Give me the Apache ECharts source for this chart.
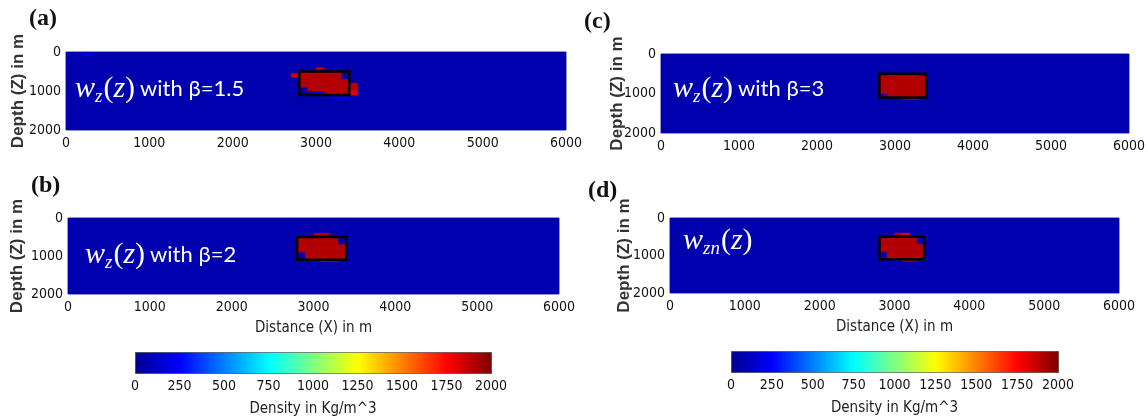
<!DOCTYPE html>
<html>
<head>
<meta charset="utf-8">
<script src="https://cdn.jsdelivr.net/npm/echarts@6/dist/echarts.min.js"></script>
<style>
  html, body { margin: 0; background: #fff; }
  #chart { width: 1148px; height: 419px; }
</style>
</head>
<body>
<div id="chart"></div>
<script>
// model extents (m) and density range (Kg/m^3)
const distanceRange = [0, 6000]
const depthRange = [0, 2000]
const densityRange = [0, 2000]
const distanceStep = 1000
const depthStep = 1000
const densityStep = 250

// true prism outline [x0, x1, z0, z1]
const prism = [2800, 3400, 500, 1100]

// recovered density blocks [x0, x1, z0, z1, density]
const cellsA = [
  [0, 6000, 0, 2000, 70],
  [200, 300, 50, 100, 200],
  [2800, 3300, 500, 700, 1900],
  [2800, 3400, 700, 900, 1900],
  [2900, 3400, 900, 1000, 1900],
  [3100, 3400, 1000, 1100, 1900],
  [3000, 3100, 1050, 1100, 240],
  [2700, 2800, 550, 650, 1850],
  [3000, 3100, 400, 450, 1880],
  [3400, 3500, 800, 1000, 1870],
  [3400, 3500, 1000, 1100, 1780],
  [3200, 3400, 1150, 1200, 200]
]
const cellsB = [
  [0, 6000, 0, 2000, 70],
  [2800, 3300, 500, 700, 1900],
  [2800, 3400, 700, 900, 1900],
  [2900, 3400, 900, 1100, 1900],
  [3000, 3200, 400, 450, 1880],
  [3000, 3100, 1100, 1150, 230],
  [3100, 3300, 1100, 1150, 1880]
]
const cellsC = [
  [0, 6000, 0, 2000, 70],
  [2900, 3300, 500, 550, 1900],
  [2800, 3400, 550, 1000, 1900],
  [2900, 3400, 1000, 1100, 1900],
  [3100, 3300, 1100, 1150, 1880]
]
const cellsD = [
  [0, 6000, 0, 2000, 70],
  [2800, 3300, 500, 700, 1900],
  [2800, 3400, 700, 900, 1900],
  [2900, 3400, 900, 1100, 1900],
  [3000, 3100, 400, 450, 1880],
  [3100, 3200, 400, 450, 1790],
  [3000, 3100, 1100, 1150, 230],
  [3100, 3300, 1100, 1150, 1860]
]

const panelTags = ['(a)', '(b)', '(c)', '(d)']
const betaTexts = ['with β=1.5', 'with β=2', 'with β=3', '']

const jet = ['#00008f', '#0000ff', '#0080ff', '#00ffff', '#80ff80',
  '#ffff00', '#ff8000', '#ff0000', '#800000']
const narrow = "'DejaVu Sans Condensed', 'Liberation Sans Narrow', sans-serif"

const chart = echarts.init(document.getElementById('chart'))

// panel boxes in pixels: a, b, c, d, then the two colourbars
const grids = [
  { left: 66, top: 52, width: 500, height: 78 },
  { left: 68, top: 218, width: 491, height: 76 },
  { left: 661, top: 54, width: 469, height: 79 },
  { left: 670, top: 218, width: 449, height: 75 },
  { left: 135, top: 352, width: 356, height: 21 },
  { left: 731, top: 351, width: 327, height: 21 }
]
const titleGaps = [39, 42, 35, 37]

const plainLabel = v => String(v)

function drawCell(params, api) {
  const a = api.coord([api.value(0), api.value(2)])
  const b = api.coord([api.value(1), api.value(3)])
  const color = api.visual('color')
  return {
    type: 'rect',
    shape: { x: a[0], y: a[1], width: b[0] - a[0], height: b[1] - a[1] },
    style: { fill: color, stroke: color, lineWidth: 0.5 }
  }
}

function drawBox(params, api) {
  const a = api.coord([api.value(0), api.value(2)])
  const b = api.coord([api.value(1), api.value(3)])
  return {
    type: 'rect',
    shape: { x: a[0], y: a[1], width: b[0] - a[0], height: b[1] - a[1] },
    style: { fill: 'none', stroke: '#000', lineWidth: 2.5 }
  }
}

const tickFont = { fontSize: 14, fontFamily: narrow, color: '#111' }

const xAxes = []
const yAxes = []
for (let i = 0; i < 4; i++) {
  xAxes.push({
    gridIndex: i,
    type: 'value',
    min: distanceRange[0],
    max: distanceRange[1],
    interval: distanceStep,
    axisLine: { show: false },
    axisTick: { show: false },
    splitLine: { show: false },
    axisLabel: Object.assign({ margin: 6, formatter: plainLabel }, tickFont),
    name: i === 1 || i === 3 ? 'Distance (X) in m' : '',
    nameLocation: 'middle',
    nameGap: 27,
    nameMoveOverlap: false,
    nameTextStyle: { fontSize: 15, fontFamily: narrow, color: '#222' }
  })
  yAxes.push({
    gridIndex: i,
    type: 'value',
    inverse: true,
    min: depthRange[0],
    max: depthRange[1],
    interval: depthStep,
    axisLine: { show: false },
    axisTick: { show: false },
    splitLine: { show: false },
    axisLabel: Object.assign({ margin: 5, formatter: plainLabel }, tickFont),
    name: 'Depth (Z) in m',
    nameLocation: 'middle',
    nameGap: titleGaps[i],
    nameMoveOverlap: false,
    nameTextStyle: { fontSize: 17, fontWeight: 'bold', fontFamily: 'Liberation Sans, Arial, sans-serif', color: '#333' }
  })
}
// colourbar tick axes
for (let i = 4; i < 6; i++) {
  xAxes.push({
    gridIndex: i,
    type: 'value',
    min: densityRange[0],
    max: densityRange[1],
    interval: densityStep,
    axisLine: { show: false },
    axisTick: { show: false },
    splitLine: { show: false },
    axisLabel: Object.assign({ margin: 6, formatter: plainLabel }, tickFont),
    name: 'Density in Kg/m^3',
    nameLocation: 'middle',
    nameGap: 29,
    nameMoveOverlap: false,
    nameTextStyle: { fontSize: 15, fontFamily: narrow, color: '#222' }
  })
  yAxes.push({ gridIndex: i, type: 'value', show: false, min: 0, max: 1 })
}

const allCells = [cellsA, cellsB, cellsC, cellsD]
const series = []
allCells.forEach((cells, i) => {
  series.push({
    type: 'custom', xAxisIndex: i, yAxisIndex: i, silent: true,
    renderItem: drawCell, encode: { x: [0, 1], y: [2, 3] }, data: cells
  })
})
for (let i = 0; i < 4; i++) {
  series.push({
    type: 'custom', xAxisIndex: i, yAxisIndex: i, silent: true, z: 3,
    renderItem: drawBox, encode: { x: [0, 1], y: [2, 3] }, data: [prism]
  })
}

const serif = 'Liberation Serif, serif'
const mathRich = {
  m: { fontFamily: serif, fontStyle: 'italic', fontWeight: 'normal', fontSize: 30, color: '#fff', lineHeight: 34 },
  s: { fontFamily: serif, fontStyle: 'italic', fontWeight: 'normal', fontSize: 19, color: '#fff', lineHeight: 34, verticalAlign: 'bottom', padding: [0, 1, 0, 0] },
  p: { fontFamily: serif, fontWeight: 'normal', fontSize: 30, color: '#fff', lineHeight: 34 },
  t: { fontFamily: 'Lato, sans-serif', fontWeight: 'normal', fontSize: 22, color: '#fff', lineHeight: 34 }
}
const textPos = [[75, 72], [85, 238], [673, 72], [683, 224]]
const tagPos = [[29, 7], [31, 174], [584, 10], [588, 179]]

const titles = []
for (let i = 0; i < 4; i++) {
  titles.push({
    text: panelTags[i], left: tagPos[i][0], top: tagPos[i][1], padding: 0,
    textStyle: { fontFamily: serif, fontWeight: 'bold', fontSize: 24, color: '#111' }
  })
  const sub = i === 3 ? 'zn' : 'z'
  const tail = betaTexts[i] ? ' {t|' + betaTexts[i] + '}' : ''
  titles.push({
    text: '{m|w}{s|' + sub + '}{p|(}{m|z}{p|)}' + tail,
    left: textPos[i][0], top: textPos[i][1], padding: 0,
    textStyle: { fontWeight: 'normal', rich: mathRich }
  })
}

const option = {
  animation: false,
  backgroundColor: '#fff',
  title: titles,
  grid: grids.map((g, i) => Object.assign({
    show: i < 4, borderColor: '#8a8ab8', borderWidth: 1, backgroundColor: 'transparent'
  }, g)),
  xAxis: xAxes,
  yAxis: yAxes,
  visualMap: [
    {
      type: 'continuous', seriesIndex: [0, 1], dimension: 4,
      min: densityRange[0], max: densityRange[1],
      orient: 'horizontal', left: 135, top: 352, itemWidth: 21, itemHeight: 356,
      calculable: false, text: null, showLabel: false, padding: 0,
      borderColor: '#444', borderWidth: 1,
      inRange: { color: jet }
    },
    {
      type: 'continuous', seriesIndex: [2, 3], dimension: 4,
      min: densityRange[0], max: densityRange[1],
      orient: 'horizontal', left: 731, top: 351, itemWidth: 21, itemHeight: 327,
      calculable: false, text: null, showLabel: false, padding: 0,
      borderColor: '#444', borderWidth: 1,
      inRange: { color: jet }
    }
  ],
  series: series
}

chart.setOption(option)
</script>
</body>
</html>
